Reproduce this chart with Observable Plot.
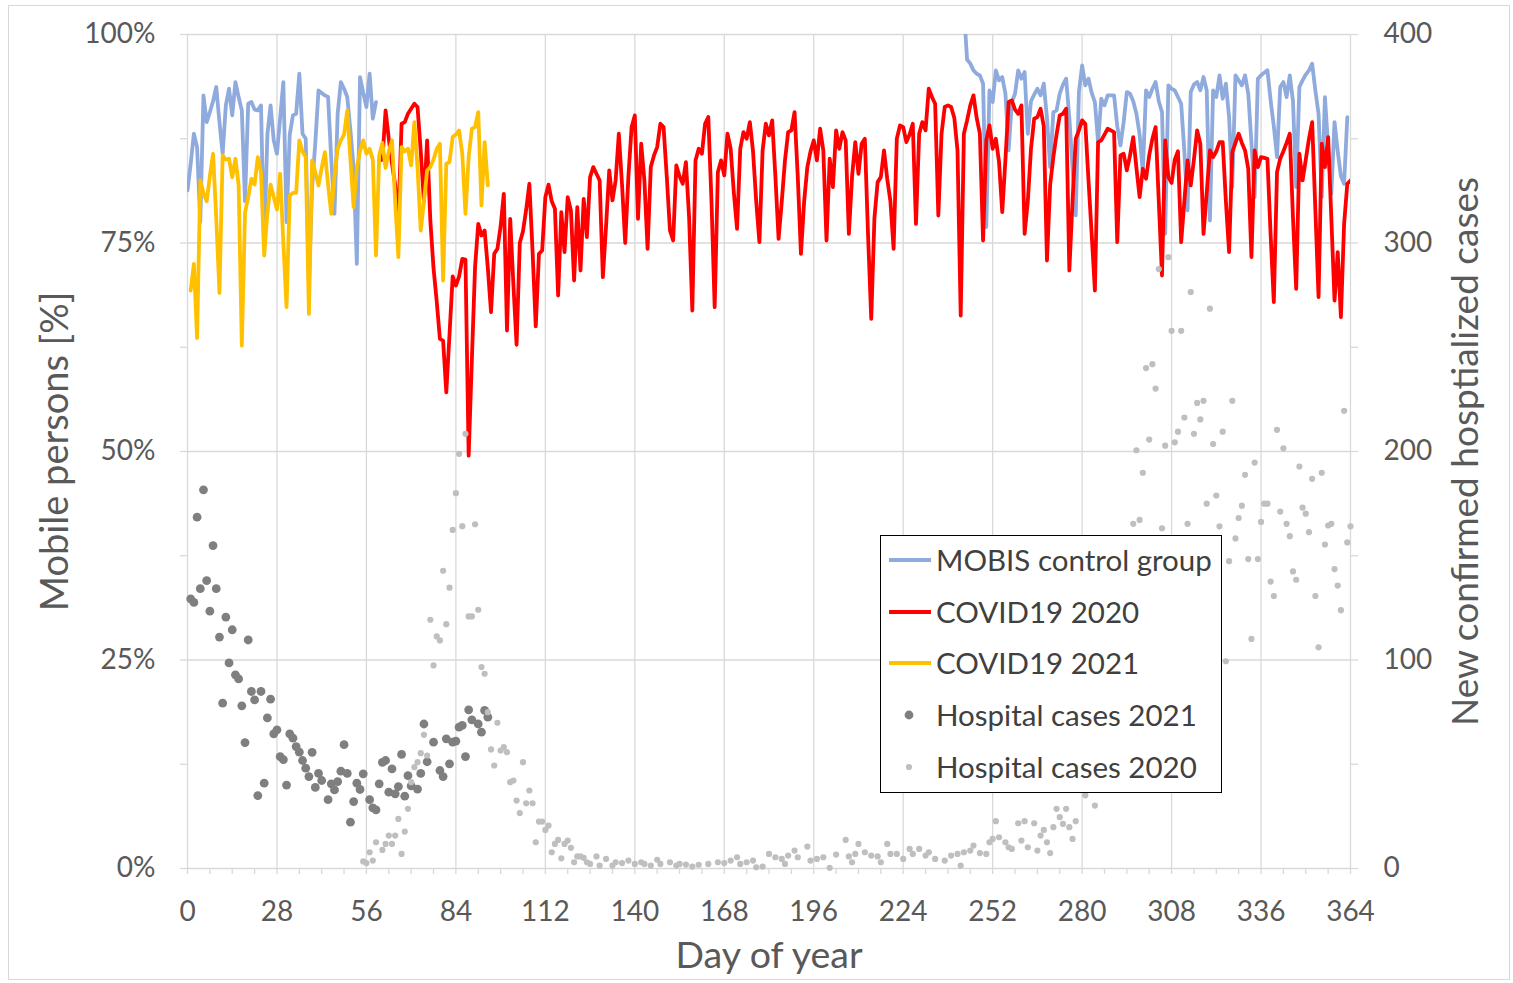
<!DOCTYPE html>
<html><head><meta charset="utf-8">
<script src="https://cdn.jsdelivr.net/npm/d3@7"></script>
<script src="https://cdn.jsdelivr.net/npm/@observablehq/plot@0.6"></script>
<style>
html,body{margin:0;padding:0;background:#fff;}
#wrap{position:relative;width:1513px;height:983px;font-family:Lato, sans-serif;overflow:hidden;}
#frame{position:absolute;left:8px;top:5px;width:1500px;height:973px;border:1px solid #d9d9d9;pointer-events:none;}
#legend{position:absolute;left:880px;top:535px;width:340px;height:256px;border:1.5px solid #000;background:#fff;}
.row{position:absolute;left:0;height:40px;width:340px;}
.row svg{position:absolute;left:6px;top:0;width:46px;height:40px;}
.row span{position:absolute;left:55px;top:0;line-height:40px;font-size:29.5px;color:#404040;white-space:nowrap;}
</style></head><body><div id="wrap"></div>
<script>
// ---- axis ticks ----
const xTicks = [0, 28, 56, 84, 112, 140, 168, 196, 224, 252, 280, 308, 336, 364];
const xMinor = d3.range(0, 365, 7);
const yTicks = [0, 25, 50, 75, 100];
const yMinor = [0, 12.5, 25, 37.5, 50, 62.5, 75, 87.5, 100];
const casesPerPercent = 4; // right axis: 0..400 cases <-> 0..100 %

// ---- MOBIS control group (% mobile), two periods ----
const mobisStart1 = 0;
const mobisWinter = [
  81.3, 84.5, 88.1, 86.5, 77.5, 92.7, 89.5, 90.7, 92, 93.7,
  89.5, 85.7, 91.5, 93.5, 90.3, 94.3, 92.5, 90.9, 80, 91.7,
  91.9, 91, 90.9, 91.5, 74.5, 88, 91.5, 87.3, 85.7, 90,
  94.3, 77.5, 88, 90.3, 90.5, 95.3, 88.1, 87.5, 70.1, 81.7,
  87, 93.3, 93, 92.7, 92.5, 85, 78.5, 90.5, 94.3, 93.5,
  92.5, 88.5, 84, 72.5, 94.9, 93, 91.3, 95.3, 89.9, 91.9
];
const mobisStart2 = 243;
const mobisAutumn = [
  103, 97, 96.5, 95.7, 95.3, 95.1, 94.1,
  76.9, 93.3, 91.9, 95.7, 94.5, 94.9, 92.9, 86.1, 91.9, 92.9,
  95.7, 94.7, 95.5, 88.1, 92, 92.8, 93.5, 92.7, 94.1, 90,
  84.1, 90.7, 90.9, 92.9, 94, 94.7, 90, 84, 78.3, 93.1,
  96.3, 93.9, 94.7, 93, 91.9, 87.1, 92.3, 91.5, 92.7, 92.7,
  92.7, 89, 86.7, 89.5, 93.1, 92.9, 92, 90.5, 88, 83.5,
  93.3, 92.5, 93.5, 94.3, 92, 90.7, 76.1, 93.9, 93.5, 93.3,
  92.5, 91.7, 86, 78.9, 93.1, 94, 94.3, 93.3, 94.9, 93.3,
  77.7, 93.3, 92.5, 95.1, 92.3, 94.1, 90.1, 81.7, 95.1, 94.5,
  93.9, 95.1, 92.9, 87, 80.5, 94.7, 95.1, 95.4, 95.7, 92.1,
  89, 85.3, 93.7, 94.3, 92.5, 95.1, 92, 81.7, 93.7, 94.5,
  95.2, 95.7, 96.5, 93.3, 90.5, 80.5, 92.5, 86.5, 80.9, 89.5,
  86, 83, 82.1, 90.1
];

// ---- COVID19 2020 (% mobile), days 60..364 ----
const covid2020Start = 60;
const covid2020 = [
  84.9, 85, 90.9, 87.5, 84.5, 82, 77.7, 89.3, 89.5, 90.5,
  91.1, 91.7, 91.3, 86, 80, 87.3, 77.7, 72, 68, 63.5,
  63.3, 57.1, 64, 71, 69.9, 71, 73.1, 73, 49.5, 61,
  72.1, 77.3, 75.9, 76.5, 72, 66.7, 73.7, 74.3, 77, 80.9,
  64.5, 77.9, 70, 62.8, 75, 76.4, 79, 82.1, 74, 65,
  73.7, 74.1, 80.5, 82, 80, 79.1, 68.7, 78.7, 73.9, 80.5,
  78.9, 70.5, 79.3, 71.7, 80.3, 75.7, 82.9, 84.1, 83.3, 82.5,
  70.9, 77, 83.7, 80.1, 82.5, 88.1, 82, 75, 83, 88.9,
  90.3, 77.9, 86.9, 82.5, 74.3, 84.1, 85.5, 86.5, 89.3, 88.9,
  83, 76.5, 75.3, 84.3, 83, 82.1, 84.7, 78, 66.9, 84.9,
  86.3, 85.7, 89.3, 90.1, 80, 67.3, 83.5, 84.9, 83.1, 88.1,
  86.3, 81, 76.7, 86.3, 88.3, 87.5, 89.5, 86, 80, 75.1,
  86.1, 89.3, 87.9, 89.7, 83, 75.5, 80, 84.9, 88.3, 88.5,
  90.7, 83, 73.7, 80, 84.1, 86, 87.3, 84.9, 88.7, 86.1,
  75.3, 85.1, 81.7, 88.5, 86.3, 88.3, 87.3, 76.1, 83, 87.1,
  83.3, 86.9, 87.5, 76, 65.9, 78, 82.3, 82.9, 86.1, 82.7,
  80, 74.3, 87.5, 89.1, 88.9, 87.1, 88, 89.3, 77.3, 88.1,
  89.5, 88.5, 93.5, 92.5, 91.7, 78.3, 88.1, 91.3, 91.5, 91.3,
  90, 86.1, 66.3, 88.1, 89.7, 91.5, 92.7, 90, 88.1, 75.3,
  87.3, 89.1, 86.3, 87.5, 84.7, 78.7, 85, 91.9, 92.1, 91,
  90.5, 91.5, 76.1, 80, 86.3, 89.9, 90.1, 91.1, 89, 72.9,
  82, 85.3, 88, 90.3, 90.5, 91.1, 71.7, 80, 87.5, 88.5,
  89.7, 89.3, 82.5, 76, 69.3, 87.1, 87.3, 88, 88.7, 88.5,
  88.3, 75.1, 85.5, 85.7, 83.7, 85.5, 87.7, 84, 80.5, 83.9,
  82.7, 85.5, 87.5, 88.9, 80, 71.1, 87.3, 82.9, 82.2, 85,
  86, 75.1, 80, 84.9, 81.9, 85, 88.5, 86.9, 76.1, 81,
  86.1, 85.3, 86, 87.1, 87.1, 80, 73.9, 85.9, 87, 88.1,
  87, 86.1, 83.9, 73.3, 86.1, 84.1, 85.3, 85.2, 85.1, 76,
  67.9, 83.5, 85.1, 86, 87, 88.1, 78, 69.5, 85.7, 82.5,
  85, 87.5, 89.5, 79, 68.5, 86.9, 84.1, 87.7, 78, 68.1,
  73.9, 66.1, 77.3, 82.1, 82.5
];

// ---- COVID19 2021 (% mobile), days 1..94 ----
const covid2021Start = 1;
const covid2021 = [
  69.3, 72.5, 63.6, 82.5, 81, 80, 83, 85.7, 78, 69,
  85.5, 85, 85.1, 82.9, 85.1, 82, 62.7, 78.6, 80.5, 82.7,
  82, 85.3, 83.5, 73.5, 78.6, 82, 80.5, 79, 83.3, 75,
  67.3, 80.7, 81, 81, 87.3, 86, 85.3, 66.5, 84.9, 83.5,
  81.9, 84, 85.9, 82, 78.5, 83, 86.3, 87.3, 88, 90.9,
  85, 79.3, 84, 86, 87.3, 85.7, 86.3, 85, 73.5, 85.5,
  87, 84, 86, 87.3, 80, 73.3, 86.5, 86, 86.3, 84.3,
  89.5, 84, 76.5, 80, 83.7, 84.1, 85, 86.3, 86.9, 70.5,
  84.5, 84.7, 87.7, 88, 88.5, 85.7, 78.5, 85.3, 88.7, 88.9,
  90.7, 79.5, 87.1, 81.9
];

// ---- Hospital cases 2021 [day, new cases] ----
const hosp2021 = [
  [1,129.3],[2,127.6],[3,168.5],[4,134.2],[5,181.6],[6,138.1],[7,123.4],[8,154.9],[9,134.2],[10,111],
  [11,79.3],[12,120.6],[13,98.6],[14,114.5],[15,92.9],[16,90.9],[17,78],[18,60.4],[19,109.6],[20,84.9],
  [21,80.9],[22,35],[23,84.9],[24,40.9],[25,72.2],[26,81.2],[27,64.6],[28,66.5],[29,53.7],[30,52.2],
  [31,40],[32,64.6],[33,62.5],[34,58.5],[35,55.8],[36,51.8],[37,48.1],[38,44.1],[39,55.7],[40,38.9],
  [41,45.6],[42,42.2],[44,33],[45,40.6],[46,37.7],[47,41.7],[48,46.7],[49,59.4],[50,45.6],[51,22.2],
  [52,32.1],[53,40.9],[54,37.9],[55,45.4],[57,33],[58,29.1],[59,28.1],[60,40.6],[61,50.9],[62,51.8],
  [63,36.6],[64,47.8],[65,35.8],[66,39.3],[67,54.7],[68,34.7],[69,44.5],[70,39.6],[72,38.1],[73,45.6],
  [74,69.3],[75,51.2],[77,60.6],[79,47],[80,44.1],[81,62.2],[82,50.2],[83,60.6],[84,61.1],[85,67.8],
  [86,68.6],[87,53.7],[88,76.1],[89,71.3],[91,69.3],[92,65.4],[93,75.8],[94,72.6]
];

// ---- Hospital cases 2020 [day, new cases] ----
const hosp2020 = [
  [55,3.4],[56,2.6],[57,7.8],[58,3.8],[59,12.6],[61,8.9],[62,11.8],[63,15.8],[64,11.8],[65,15.8],
  [66,23.8],[67,7],[68,17.7],[69,28.6],[70,41.4],[71,48.6],[72,51],[73,55.3],[74,64.1],[75,54.2],
  [76,119.3],[77,97.4],[78,111.3],[79,109.4],[80,142.8],[81,117.2],[82,134.7],[83,162.4],[84,180],[85,198.9],
  [86,164.2],[87,208.5],[88,120.9],[89,120.9],[90,165.1],[91,124.1],[92,96.6],[93,93.4],[94,75],[95,57.1],
  [96,49.4],[97,69.9],[98,56.6],[99,58.2],[100,55.8],[101,41.4],[102,42.2],[103,32.6],[104,26.6],[105,51],
  [106,31.3],[107,37.4],[108,31.3],[109,12.6],[110,22.5],[111,22.5],[112,18.5],[113,20.6],[114,7.8],[115,11.8],
  [116,13.7],[117,4.9],[118,11.8],[119,13.4],[120,9.9],[121,3],[122,5.8],[123,5.8],[124,5.1],[125,3],
  [126,2.2],[128,5.8],[129,1.4],[131,4.6],[133,1.4],[134,3],[136,2.6],[138,3.8],[140,2.2],[142,3],
  [143,2.2],[145,1.4],[147,4.2],[148,2.2],[151,3],[153,1.4],[154,2.2],[156,1.9],[158,0.9],[160,1.8],
  [163,2.2],[166,3],[168,2.6],[170,3.8],[172,5.4],[173,2.2],[175,3],[177,3.8],[178,0.6],[180,0.9],
  [182,7],[184,5.4],[186,4.6],[187,2.2],[188,6.2],[190,8.6],[191,5.4],[194,10.5],[195,3.8],[197,4.6],
  [199,5.4],[201,0.3],[203,6.7],[206,13.7],[207,5.8],[208,3],[209,7],[210,11.8],[212,7.8],[214,6.2],
  [216,5.8],[217,3],[219,11.8],[220,7],[222,7],[224,4.6],[226,9.4],[227,7],[229,9.4],[231,6.2],
  [232,7.8],[234,4.6],[237,3.8],[239,6.2],[241,7],[242,1.4],[243,7.8],[245,8.6],[246,11],[248,7.4],
  [250,7],[251,12.6],[252,14.2],[253,22.7],[254,15],[256,12.6],[257,10.2],[258,9.4],[260,21.7],[261,13.4],
  [262,22.7],[263,10.2],[265,21.7],[266,8.6],[267,15.8],[268,18.5],[269,12.6],[270,7.4],[271,19.8],[272,28.6],
  [273,24.6],[274,21.4],[275,28.6],[276,19.8],[277,14.2],[278,22.7],[281,35.1],[284,30.2],
  [296,165.3],[297,200.6],[298,167.2],[299,189.8],[300,240],[301,205.7],[302,241.9],[303,230.2],[304,287.5],[305,163.2],
  [306,202.8],[307,293.2],[308,257.9],[309,204.4],[310,209.5],[311,257.9],[312,216.3],[313,165.3],[314,276.5],[315,208.5],
  [316,223.3],[317,215.4],[318,224.3],[319,175],[320,268.5],[321,203.6],[322,178.9],[323,164.1],[324,209.5],[325,99.4],
  [326,147.4],[327,224.3],[328,158.3],[329,168.1],[330,174],[331,188.8],[332,148.4],[333,110.1],[334,194.7],[335,148.4],
  [336,166.2],[337,175],[338,175],[339,137.6],[340,130.7],[341,210.4],[342,171.2],[343,201.5],[344,165.3],[345,159.4],
  [346,142.5],[347,138.5],[348,192.8],[349,173.1],[350,170.2],[351,161.3],[352,186.9],[353,130.7],[354,106.1],[355,189.8],
  [356,155.4],[357,164.5],[358,165.3],[359,143.6],[360,135.7],[361,123.9],[362,219.5],[363,156.4],[364,164.1]
];

// ---- labels & colours ----
const series = [
  {name: "MOBIS control group", color: "#8faadc", kind: "line"},
  {name: "COVID19 2020", color: "#ff0000", kind: "line"},
  {name: "COVID19 2021", color: "#ffc000", kind: "line"},
  {name: "Hospital cases 2021", color: "#7f7f7f", kind: "dot", r: 4.4},
  {name: "Hospital cases 2020", color: "#bfbfbf", kind: "dot", r: 3.1}
];
const titleLeft = "Mobile persons [%]";
const titleRight = "New confirmed hosptialized cases";
const titleX = "Day of year";

// ---- build tables ----
const mobisRows = [
  ...mobisWinter.map((v, i) => ({day: mobisStart1 + i, value: v, seg: 1})),
  ...mobisAutumn.map((v, i) => ({day: mobisStart2 + i, value: v, seg: 2}))
];
const c2020Rows = covid2020.map((v, i) => ({day: covid2020Start + i, value: v}));
const c2021Rows = covid2021.map((v, i) => ({day: covid2021Start + i, value: v}));
const h2021Rows = hosp2021.map(([day, cases]) => ({day, cases}));
const h2020Rows = hosp2020.map(([day, cases]) => ({day, cases}));

const grid = {stroke: "#d9d9d9", strokeOpacity: 1, strokeWidth: 1.3};
const lineW = 3.8;

const chart = Plot.plot({
  width: 1513,
  height: 983,
  marginLeft: 187,
  marginRight: 163,
  marginTop: 34,
  marginBottom: 115,
  style: {fontFamily: "Lato, sans-serif", fontSize: "28px", color: "#595959", background: "transparent", overflow: "visible"},
  x: {domain: [0, 364], label: null},
  y: {domain: [0, 100], label: null},
  marks: [
    Plot.gridX(xTicks, grid),
    Plot.gridY(yTicks, grid),
    Plot.axisX(xMinor, {anchor: "bottom", tickSize: 6, tickFormat: () => "", stroke: "#d9d9d9", strokeWidth: 1.3, label: null}),
    Plot.axisY(yMinor, {anchor: "left", tickSize: 7, tickFormat: () => "", stroke: "#d9d9d9", strokeWidth: 1.3, label: null}),
    Plot.axisY(yMinor, {anchor: "right", tickSize: 7, tickFormat: () => "", stroke: "#d9d9d9", strokeWidth: 1.3, label: null}),
    Plot.axisX(xTicks, {anchor: "bottom", tickSize: 0, tickPadding: 33, fontSize: 28, label: null}),
    Plot.axisY(yTicks, {anchor: "left", tickSize: 0, tickPadding: 32, fontSize: 28, tickFormat: d => d + "%", label: null}),
    Plot.axisY(yTicks, {anchor: "right", tickSize: 0, tickPadding: 33, fontSize: 28, tickFormat: d => String(d * casesPerPercent), label: null}),
    Plot.line(mobisRows, {x: "day", y: "value", z: "seg", stroke: series[0].color, strokeWidth: lineW, strokeLinejoin: "round", clip: true}),
    Plot.line(c2020Rows, {x: "day", y: "value", stroke: series[1].color, strokeWidth: lineW, strokeLinejoin: "round", clip: true}),
    Plot.line(c2021Rows, {x: "day", y: "value", stroke: series[2].color, strokeWidth: lineW, strokeLinejoin: "round", clip: true}),
    Plot.dot(h2021Rows, {x: "day", y: d => d.cases / casesPerPercent, r: series[3].r, fill: series[3].color, stroke: null}),
    Plot.dot(h2020Rows, {x: "day", y: d => d.cases / casesPerPercent, r: series[4].r, fill: series[4].color, stroke: null}),
    Plot.text([titleLeft], {text: d => d, frameAnchor: "left", textAnchor: "middle", dx: -132, rotate: -90, fontSize: 38, fill: "#595959"}),
    Plot.text([titleRight], {text: d => d, frameAnchor: "right", textAnchor: "middle", dx: 116, rotate: -90, fontSize: 37, fill: "#595959"}),
    Plot.text([titleX], {text: d => d, frameAnchor: "bottom", dy: 99, fontSize: 37.5, fill: "#595959"})
  ]
});

const wrap = document.getElementById("wrap");
wrap.appendChild(chart);

// frame around the chart area
const frame = document.createElement("div");
frame.id = "frame";
wrap.appendChild(frame);

// legend
const legend = document.createElement("div");
legend.id = "legend";
const rowCenters = [24, 76, 127, 179, 231];
series.forEach((s, i) => {
  const row = document.createElement("div");
  row.className = "row";
  row.style.top = (rowCenters[i] - 20) + "px";
  const sw = s.kind === "line"
    ? `<svg viewBox="0 0 46 40"><line x1="2" y1="20" x2="44" y2="20" stroke="${s.color}" stroke-width="${lineW}"/></svg>`
    : `<svg viewBox="0 0 46 40"><circle cx="22" cy="20" r="${s.r}" fill="${s.color}"/></svg>`;
  row.innerHTML = sw + `<span>${s.name}</span>`;
  legend.appendChild(row);
});
wrap.appendChild(legend);
</script></body></html>
